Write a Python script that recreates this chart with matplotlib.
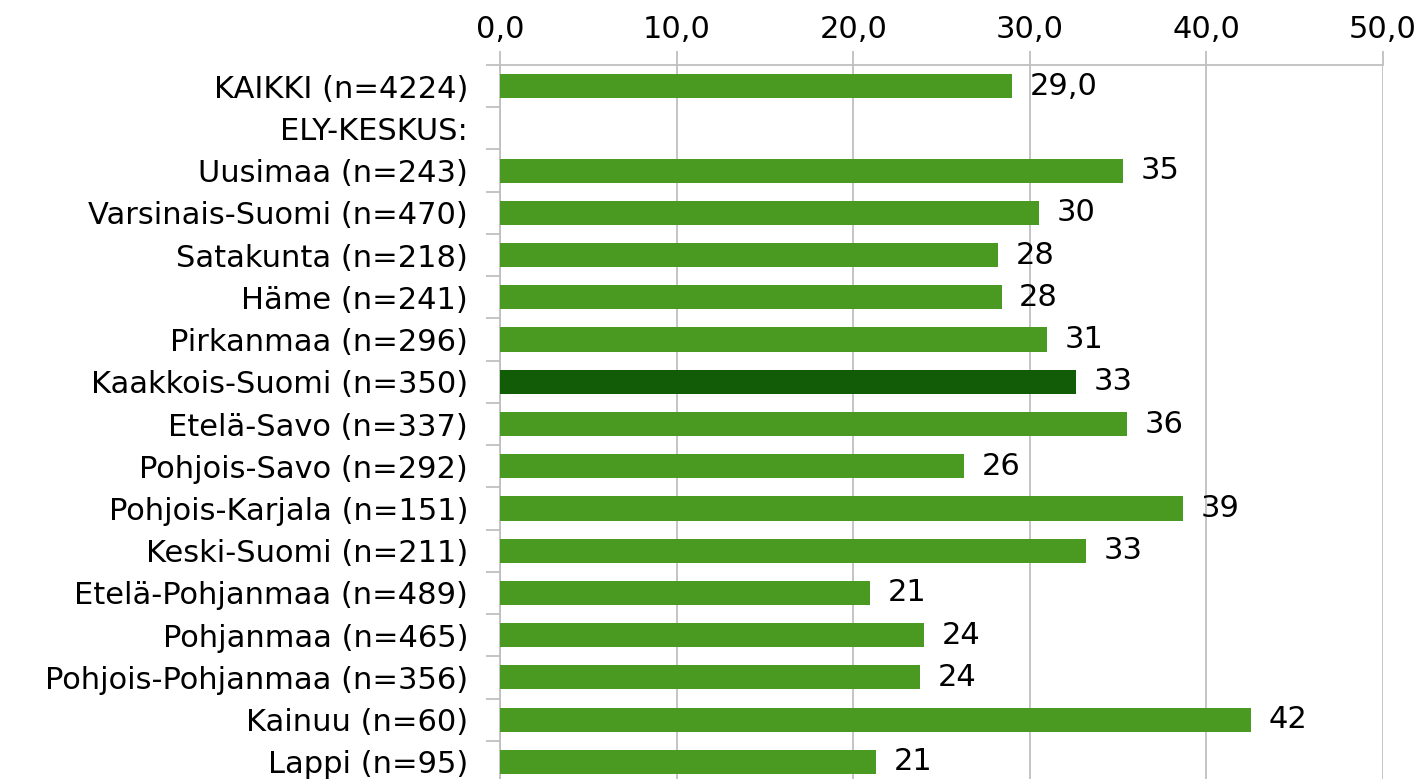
import matplotlib
matplotlib.use("Agg")
import matplotlib.pyplot as plt
import numpy as np

categories = ["KAIKKI (n=4224)", "ELY-KESKUS:", "Uusimaa (n=243)", "Varsinais-Suomi (n=470)",
              "Satakunta (n=218)", "Häme (n=241)", "Pirkanmaa (n=296)", "Kaakkois-Suomi (n=350)",
              "Etelä-Savo (n=337)", "Pohjois-Savo (n=292)", "Pohjois-Karjala (n=151)",
              "Keski-Suomi (n=211)", "Etelä-Pohjanmaa (n=489)", "Pohjanmaa (n=465)",
              "Pohjois-Pohjanmaa (n=356)", "Kainuu (n=60)", "Lappi (n=95)"]
values = [29.0, None, 35.3, 30.5, 28.2, 28.4, 31.0, 32.6, 35.5, 26.3, 38.7, 33.2, 20.95, 24.0, 23.8, 42.5, 21.3]
labels = ["29,0", "", "35", "30", "28", "28", "31", "33", "36", "26", "39", "33", "21", "24", "24", "42", "21"]
highlight = "Kaakkois-Suomi (n=350)"
xticks = [0, 10, 20, 30, 40, 50]

plt.rcParams['font.family'] = ['DejaVu Sans']
FS = 22
fig = plt.figure(figsize=(14.22, 7.79), dpi=100)
ax = fig.add_axes([500/1422, 1 - 783/779, 883/1422, 718/779])

y = np.arange(len(categories))
for i, (c, v) in enumerate(zip(categories, values)):
    if v is None:
        continue
    col = "#135c07" if c == highlight else "#4a9a22"
    ax.barh(i, v, height=0.57, color=col, zorder=3)
    ax.text(v + 1.0, i, labels[i], va="center", ha="left", fontsize=FS, color="black", zorder=4)

ax.set_xlim(0, 50)
ax.set_ylim(len(categories) - 0.5, -0.5)
ax.xaxis.tick_top()
ax.set_xticks(xticks)
ax.set_xticklabels([f"{t:.1f}".replace(".", ",") for t in xticks], fontsize=FS)
ax.tick_params(axis="x", length=10, color="#bfbfbf", width=1.3, pad=5)
ax.set_yticks(y)
ax.set_yticklabels(categories, fontsize=FS)
ax.set_yticks(np.arange(len(categories) + 1) - 0.5, minor=True)
ax.tick_params(axis="y", which="major", length=0, pad=23)
ax.tick_params(axis="y", which="minor", length=10, color="#bfbfbf", width=1.3)
ax.grid(axis="x", color="#bfbfbf", linewidth=1.3, zorder=0)
for s in ["right", "bottom"]:
    ax.spines[s].set_visible(False)
for s in ["top", "left"]:
    ax.spines[s].set_color("#bfbfbf")
    ax.spines[s].set_linewidth(1.3)

fig.savefig("out.png", dpi=100)
